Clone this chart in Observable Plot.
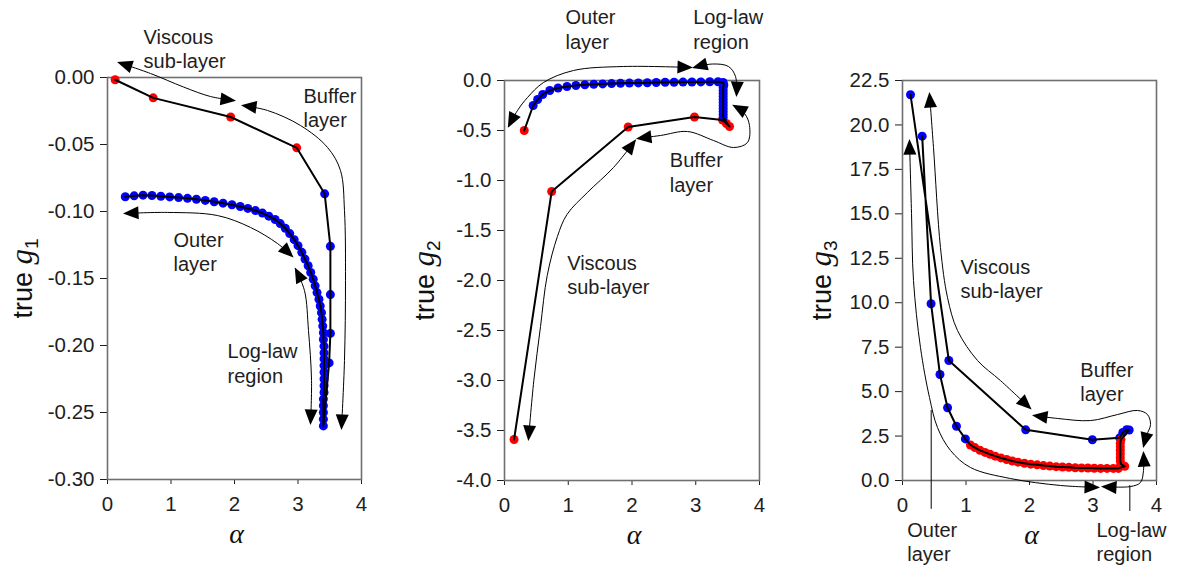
<!DOCTYPE html>
<html><head><meta charset="utf-8">
<script src="https://cdn.jsdelivr.net/npm/d3@7"></script>
<script src="https://cdn.jsdelivr.net/npm/@observablehq/plot@0.6"></script>
<style>
body{margin:0;background:#fff;}
#wrap{position:relative;width:1178px;height:568px;overflow:hidden;background:#fff;}
#wrap svg{position:absolute;top:0;overflow:visible;}
</style></head><body><div id="wrap"></div>
<script>
// ---------- axis ticks ----------
const xTicks = [0, 1, 2, 3, 4];
const xTickLabels = ["0", "1", "2", "3", "4"];
const y1Ticks = [0, -0.05, -0.1, -0.15, -0.2, -0.25, -0.3];
const y1TickLabels = ["0.00", "-0.05", "-0.10", "-0.15", "-0.20", "-0.25", "-0.30"];
const y2Ticks = [0, -0.5, -1, -1.5, -2, -2.5, -3, -3.5, -4];
const y2TickLabels = ["0.0", "-0.5", "-1.0", "-1.5", "-2.0", "-2.5", "-3.0", "-3.5", "-4.0"];
const y3Ticks = [0, 2.5, 5, 7.5, 10, 12.5, 15, 17.5, 20, 22.5];
const y3TickLabels = ["0.0", "2.5", "5.0", "7.5", "10.0", "12.5", "15.0", "17.5", "20.0", "22.5"];

// ---------- panel 1: true g1 vs alpha ----------
const p1Alpha = [0.12, 0.72, 1.94, 2.98, 3.42, 3.51, 3.51, 3.51, 3.49,
  3.40, 3.40, 3.40, 3.40, 3.40, 3.41, 3.41, 3.41, 3.41, 3.41, 3.41, 3.41, 3.41,
  3.40, 3.40, 3.39, 3.38, 3.37, 3.35, 3.33, 3.30, 3.27, 3.24, 3.20, 3.16, 3.11, 3.06, 3.00,
  2.94, 2.87, 2.80, 2.72, 2.64, 2.54, 2.44, 2.33, 2.21, 2.09, 1.96, 1.82, 1.68, 1.54, 1.40,
  1.26, 1.12, 0.98, 0.84, 0.70, 0.56, 0.42, 0.28];
const p1G = [-0.0017, -0.0152, -0.0295, -0.0525, -0.0868, -0.1260, -0.1620, -0.1910, -0.2130,
  -0.2600, -0.2550, -0.2500, -0.2450, -0.2400, -0.2350, -0.2300, -0.2250, -0.2200, -0.2150, -0.2100, -0.2055, -0.2005,
  -0.1955, -0.1905, -0.1855, -0.1805, -0.1755, -0.1705, -0.1655, -0.1605, -0.1555, -0.1505, -0.1455, -0.1405, -0.1355, -0.1305, -0.1255,
  -0.1210, -0.1165, -0.1125, -0.1090, -0.1060, -0.1035, -0.1012, -0.0993, -0.0977, -0.0963, -0.0950, -0.0938, -0.0927, -0.0917, -0.0909,
  -0.0902, -0.0896, -0.0891, -0.0886, -0.0881, -0.0878, -0.0883, -0.0890];
const p1Col = ("rrrr" + "bbbbb" + "bbbbbbbbbbbbb" + "bbbbbbbbbbbbbbb" + "bbbbbbbbbbbbbbb" + "bbbbbbbb").split("");

// ---------- panel 2: true g2 vs alpha ----------
const p2Alpha = [0.15, 0.74, 1.94, 2.98, 3.42, 3.48, 3.53,
  3.43, 3.43, 3.43, 3.43, 3.43, 3.43, 3.43, 3.43, 3.43, 3.43, 3.43, 3.44, 3.43,
  3.35, 3.22, 3.08, 2.94, 2.80, 2.66, 2.52, 2.38, 2.24, 2.10, 1.96, 1.82, 1.68, 1.54, 1.40,
  1.26, 1.12, 0.98, 0.84, 0.71, 0.60, 0.52, 0.45, 0.31];
const p2G = [-3.59, -1.11, -0.465, -0.365, -0.395, -0.43, -0.46,
  -0.37, -0.34, -0.31, -0.28, -0.25, -0.22, -0.19, -0.16, -0.13, -0.10, -0.07, -0.045, -0.02,
  -0.012, -0.013, -0.014, -0.015, -0.016, -0.017, -0.018, -0.020, -0.022, -0.024, -0.026, -0.028, -0.031, -0.034, -0.038,
  -0.043, -0.050, -0.060, -0.075, -0.100, -0.140, -0.190, -0.250, -0.50];
const p2Col = ("rrrrrrr" + "bbbbbbbbbbbbb" + "bbbbbbbbbbbbbbb" + "bbbbbbbb" + "r").split("");

// ---------- panel 3: true g3 vs alpha ----------
const p3Alpha = [0.126, 0.73, 1.94, 2.99, 3.42, 3.47, 3.53, 3.57,
  3.44, 3.43, 3.43, 3.43, 3.43, 3.43, 3.43, 3.44, 3.50,
  3.40, 3.32, 3.22, 3.12, 3.02, 2.92, 2.82, 2.72, 2.62, 2.52, 2.42, 2.32, 2.22, 2.12, 2.02,
  1.92, 1.82, 1.73, 1.64, 1.55, 1.46, 1.38, 1.30, 1.22, 1.14, 1.07,
  0.99, 0.85, 0.71, 0.59, 0.45, 0.31];
const p3G = [21.7, 6.75, 2.85, 2.29, 2.40, 2.70, 2.86, 2.84,
  2.30, 2.10, 1.90, 1.70, 1.50, 1.30, 1.10, 0.92, 0.80,
  0.68, 0.68, 0.68, 0.68, 0.69, 0.70, 0.71, 0.72, 0.74, 0.76, 0.78, 0.81, 0.84, 0.88, 0.92,
  0.97, 1.03, 1.10, 1.18, 1.27, 1.37, 1.47, 1.58, 1.70, 1.85, 2.00,
  2.34, 3.05, 4.09, 5.96, 9.94, 19.37];
const p3Col = ("bbbbbbbb" + "rrrrrrrrr" + "rrrrrrrrrrrrrrr" + "rrrrrrrrrrr" + "bbbbbb").split("");

// ---------- annotations (alpha, g units) ----------
const p1Arrows = [
  [[0.173, 0.0112], [0.677, 0.0030], [1.197, -0.0071], [1.622, -0.0142], [2.0, -0.0172]],
  [[2.126, -0.0209], [2.52, -0.0246], [3.039, -0.0358], [3.465, -0.0522], [3.669, -0.0694], [3.732, -0.0993], [3.748, -0.1515], [3.732, -0.2112], [3.685, -0.2619]],
  [[0.268, -0.1015], [0.945, -0.1007], [1.732, -0.1030], [2.252, -0.1119], [2.677, -0.1239], [2.913, -0.1336]],
  [[2.96, -0.1428], [3.102, -0.159], [3.165, -0.1888], [3.213, -0.2261], [3.197, -0.2582]]
];
const p1Notes = [["Viscous\nsub-layer", 0.567, 0.0382], ["Buffer\nlayer", 3.087, -0.0058],
  ["Outer\nlayer", 1.04, -0.1134], ["Log-law\nregion", 1.89, -0.1966]];

const p2Arrows = [
  [[0.376, -3.59], [0.46, -3.0], [0.565, -2.46], [0.67, -1.95], [0.83, -1.56], [0.98, -1.34], [1.30, -1.12], [1.71, -0.87], [2.05, -0.60]],
  [[2.086, -0.58], [2.447, -0.55], [2.871, -0.51], [3.278, -0.60], [3.592, -0.67], [3.812, -0.62], [3.843, -0.45], [3.765, -0.33], [3.592, -0.25]],
  [[0.063, -0.46], [0.204, -0.30], [0.361, -0.17], [0.612, -0.02], [1.082, 0.10], [1.867, 0.14], [2.933, 0.13]],
  [[2.965, 0.13], [3.263, 0.165], [3.514, 0.14], [3.624, 0.04], [3.639, -0.15]]
];
const p2Notes = [["Outer\nlayer", 0.957, 0.735], ["Log-law\nregion", 2.96, 0.735],
  ["Buffer\nlayer", 2.593, -0.694], ["Viscous\nsub-layer", 0.983, -1.72]];

const p3Arrows = [
  [[0.425, 21.77], [0.488, 18.73], [0.598, 13.10], [0.709, 10.29], [0.866, 8.44], [1.181, 6.75], [1.543, 5.62], [2.016, 4.05]],
  [[2.063, 3.66], [2.441, 3.49], [2.961, 3.37], [3.386, 3.71], [3.701, 3.94], [3.858, 3.71], [3.906, 3.15], [3.843, 2.53], [3.795, 1.91]],
  [[3.795, 1.57], [3.795, 0.56], [3.748, -0.11], [3.591, -0.34], [3.15, -0.34]],
  [[0.110, 19.12], [0.142, 15.02], [0.173, 11.25], [0.283, 7.48], [0.425, 4.67], [0.551, 2.98], [0.756, 1.69], [1.071, 0.73], [1.701, 0.11], [2.488, -0.28], [3.087, -0.39]]
];
const p3Leaders = [[[0.452, 3.94], [0.452, -1.57]], [[3.58, -0.28], [3.58, -1.69]]];
const p3Notes = [["Viscous\nsub-layer", 0.913, 12.61], ["Buffer\nlayer", 2.80, 6.8],
  ["Outer\nlayer", 0.074, -2.2], ["Log-law\nregion", 3.055, -2.2]];

const NS = "http://www.w3.org/2000/svg";
function build(cfg) {
  const pts = cfg.alpha.map((a, i) => ({a, g: cfg.g[i], c: cfg.col[i] === "r" ? "#ff0000" : "#0000ff"}));
  const notes = cfg.notes.map(([t, a, g]) => ({t, a, g}));
  const ylabel = "true g" + cfg.sub;
  const marks = [
    Plot.frame({stroke: "#6f6f6f", strokeWidth: 1.6}),
    Plot.dot(pts, {x: "a", y: "g", fill: "c", r: 4.5}),
    Plot.line(pts, {x: "a", y: "g", stroke: "#000", strokeWidth: 2}),
    ...cfg.arrows.map(ar => Plot.line(ar, {x: d => d[0], y: d => d[1], curve: "catmull-rom", stroke: "#000", strokeWidth: 1, markerStart: "arrow", markerEnd: "arrow"})),
    ...(cfg.leaders || []).map(l => Plot.line(l, {x: d => d[0], y: d => d[1], stroke: "#000", strokeWidth: 1})),
    Plot.text(notes, {x: "a", y: "g", text: "t", textAnchor: "start", lineAnchor: "top", lineHeight: 1.22, fontSize: 20, fill: "#1e1e1e"}),
    Plot.text([ylabel], {text: d => d, frameAnchor: "left", textAnchor: "middle", lineAnchor: "middle", dx: cfg.ylabDx, rotate: -90, fontSize: 27, fill: "#111"}),
    Plot.text(["α"], {text: d => d, frameAnchor: "bottom", textAnchor: "middle", lineAnchor: "middle", dy: 55, dx: 2, fontSize: 28, fontStyle: "italic", fontFamily: "'Liberation Serif', serif", fill: "#111"})
  ];
  const svg = Plot.plot({
    width: cfg.width, height: 568,
    marginLeft: cfg.ml, marginRight: cfg.mr, marginTop: cfg.mt, marginBottom: cfg.mb,
    style: {fontFamily: "'Liberation Sans', Arial, sans-serif", fontSize: "20.5px", color: "#1e1e1e", background: "#fff", overflow: "visible"},
    x: {domain: [0, 4], ticks: xTicks, tickFormat: d => xTickLabels[xTicks.indexOf(d)], tickSize: 5, tickPadding: 12, label: null},
    y: {domain: cfg.yDomain, ticks: cfg.yTicks, tickFormat: d => cfg.yLabels[cfg.yTicks.indexOf(d)], tickSize: 7, tickPadding: 6, label: null},
    color: {type: "identity"},
    marks
  });
  // filled triangular arrowheads
  svg.querySelectorAll("marker").forEach(m => {
    m.setAttribute("viewBox", "-16 -8 20 16");
    m.setAttribute("markerWidth", "20");
    m.setAttribute("markerHeight", "16");
    m.setAttribute("markerUnits", "userSpaceOnUse");
    m.setAttribute("orient", "auto-start-reverse");
    m.setAttribute("refX", "0");
    m.setAttribute("refY", "0");
    m.setAttribute("overflow", "visible");
    m.setAttribute("fill", "#000");
    m.setAttribute("stroke", "none");
    while (m.firstChild) m.removeChild(m.firstChild);
    const p = document.createElementNS(NS, "path");
    p.setAttribute("d", "M-14,-6.5L1.5,0L-14,6.5Z");
    p.setAttribute("fill", "#000");
    p.setAttribute("stroke", "none");
    m.appendChild(p);
  });
  // axis label with italic g and subscript
  svg.querySelectorAll("text").forEach(t => {
    if (t.textContent === ylabel) {
      while (t.firstChild) t.removeChild(t.firstChild);
      const a = document.createElementNS(NS, "tspan"); a.textContent = "true ";
      const b = document.createElementNS(NS, "tspan"); b.textContent = "g";
      b.setAttribute("font-style", "italic"); b.setAttribute("font-family", "'Liberation Serif', serif"); b.setAttribute("font-size", "31");
      const c = document.createElementNS(NS, "tspan"); c.textContent = cfg.sub;
      c.setAttribute("font-size", "19"); c.setAttribute("dy", "6");
      t.append(a, b, c);
    }
  });
  svg.style.left = cfg.left + "px";
  document.getElementById("wrap").appendChild(svg);
}

build({left: 0, width: 392, ml: 107, mr: 31, mt: 77, mb: 89, yDomain: [-0.3, 0], yTicks: y1Ticks, yLabels: y1TickLabels,
  alpha: p1Alpha, g: p1G, col: p1Col, arrows: p1Arrows, notes: p1Notes, sub: "1", ylabDx: -84});
build({left: 392, width: 393, ml: 112, mr: 26, mt: 80, mb: 88, yDomain: [-4, 0], yTicks: y2Ticks, yLabels: y2TickLabels,
  alpha: p2Alpha, g: p2G, col: p2Col, arrows: p2Arrows, notes: p2Notes, sub: "2", ylabDx: -79});
build({left: 785, width: 393, ml: 117, mr: 22, mt: 80, mb: 88, yDomain: [0, 22.5], yTicks: y3Ticks, yLabels: y3TickLabels,
  alpha: p3Alpha, g: p3G, col: p3Col, arrows: p3Arrows, notes: p3Notes, leaders: p3Leaders, sub: "3", ylabDx: -80});
</script></body></html>
